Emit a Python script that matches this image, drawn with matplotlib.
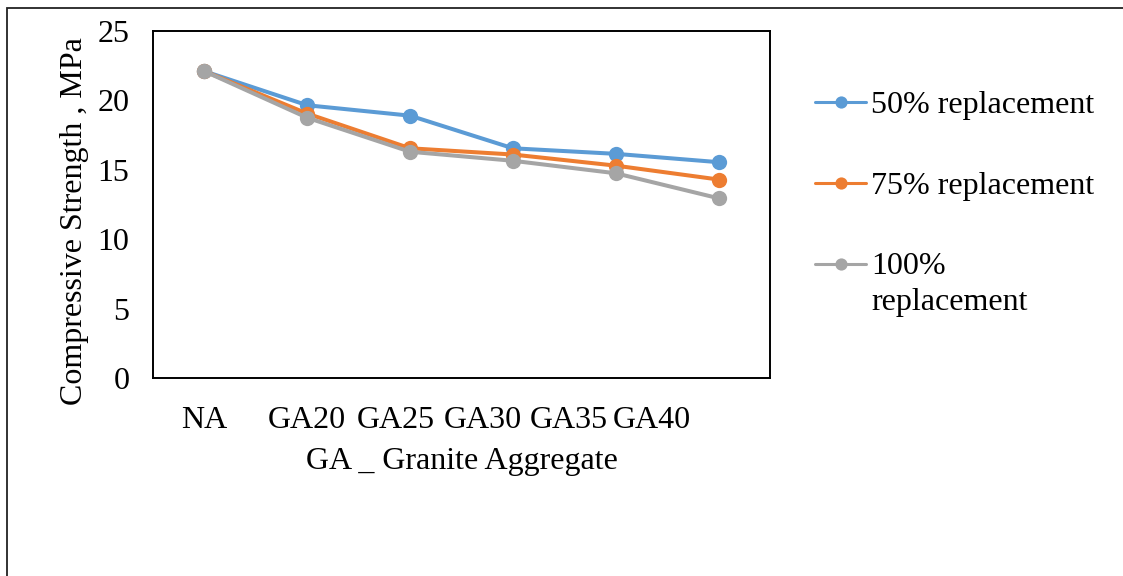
import matplotlib
matplotlib.use("Agg")
import matplotlib.pyplot as plt
from matplotlib.patches import Rectangle
from matplotlib.transforms import Affine2D

categories = ["NA", "GA20", "GA25", "GA30", "GA35", "GA40"]
series_names = ["50% replacement", "75% replacement", "100%\nreplacement"]
s50 = [22.1, 19.65, 18.9, 16.55, 16.15, 15.55]
s75 = [22.1, 19.05, 16.55, 16.1, 15.3, 14.3]
s100 = [22.1, 18.75, 16.3, 15.65, 14.75, 12.95]
colors = ["#5B9BD5", "#ED7D31", "#A5A5A5"]
yticks = [0, 5, 10, 15, 20, 25]
# label positions of the category text (as laid out in the original)
label_pos = [0, 1, 1.86, 2.71, 3.54, 4.35]

plt.rcParams['font.family'] = ['Liberation Serif', 'DejaVu Serif']
FS = 23

W, H = 1123, 576
fig = plt.figure(figsize=(W / 100, H / 100), dpi=100)
ax = fig.add_axes([153 / W, (H - 378) / H, 617 / W, 347 / H])

x = list(range(len(categories)))
for vals, name, c in zip([s50, s75, s100], series_names, colors):
    ax.plot(x, vals, color=c, lw=2.9, marker='o', markersize=11,
            markeredgewidth=0, label=name, solid_capstyle='round')

ax.set_xlim(-0.5, len(categories) - 0.5)
ax.set_ylim(0, 25)
ax.set_yticks(yticks)
ax.set_yticklabels([str(t) for t in yticks], fontsize=FS)
ax.set_xticks(label_pos)
ax.set_xticklabels(categories, fontsize=FS)
ax.tick_params(axis='both', length=0)
ax.tick_params(axis='y', pad=17)
ax.tick_params(axis='x', pad=20)
for sp in ax.spines.values():
    sp.set_linewidth(1.4)
    sp.set_color('black')

ax.set_ylabel("Compressive Strength , MPa", fontsize=FS)
ax.yaxis.set_label_coords(-0.104, 0.452)
ax.set_xlabel("GA _ Granite Aggregate", fontsize=FS)
ax.xaxis.set_label_coords(0.5, -0.2)

leg = ax.legend(loc='upper left', bbox_to_anchor=(815 / W, 1 - 91 / H),
                bbox_transform=fig.transFigure, frameon=False, fontsize=FS,
                handlelength=1.6, handletextpad=0.15, labelspacing=1.6,
                borderpad=0, borderaxespad=0, markerscale=0.8)
lines = leg.get_lines()
for ln in lines:
    ln.set_linewidth(2.2)
for t in leg.get_texts():
    t.set_linespacing(1.3)
# align the handle of the two-line entry with its first line
lines[2].set_transform(lines[2].get_transform() + Affine2D().translate(0, 20))

# outer chart frame
fig.patches.append(Rectangle((7 / W, -0.1), 1.2, (1 - 8 / H) + 0.1,
                             transform=fig.transFigure, fill=False,
                             edgecolor='#222222', lw=1.3, zorder=0))

fig.savefig("out.png", dpi=100)
